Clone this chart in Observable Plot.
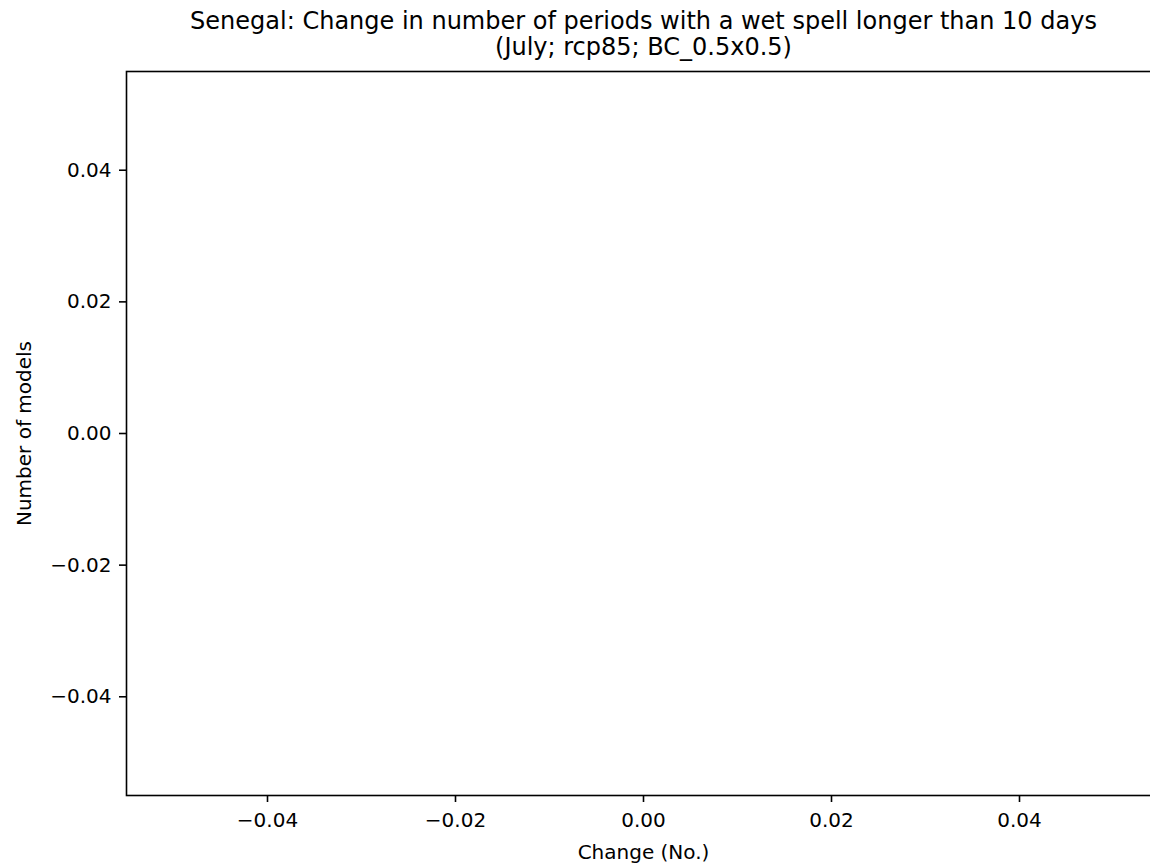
<!DOCTYPE html>
<html>
<head>
<meta charset="utf-8">
<script src="https://cdn.jsdelivr.net/npm/d3@7"></script>
<script src="https://cdn.jsdelivr.net/npm/@observablehq/plot@0.6"></script>
<style>
  html, body { margin: 0; padding: 0; background: #fff; overflow: hidden; }
  #chart { width: 1150px; height: 865px; overflow: hidden; }
  #chart svg { max-width: none !important; }
</style>
</head>
<body>
<div id="chart"></div>
<script>
// Chart content (the reference histogram contains no data)
const titleText = "Senegal: Change in number of periods with a wet spell longer than 10 days\n(July; rcp85; BC_0.5x0.5)";
const xLabel = "Change (No.)";
const yLabel = "Number of models";
const changeValues = [];          // no model values in the reference
const xTicks = [-0.04, -0.02, 0.00, 0.02, 0.04];
const yTicks = [-0.04, -0.02, 0.00, 0.02, 0.04];
const xDomain = [-0.055, 0.055];
const yDomain = [-0.055, 0.055];

const fmt = d3.format(".2f");
const font = "DejaVu Sans";

const chart = Plot.plot({
  width: 1170,
  height: 865,
  marginLeft: 126,
  marginRight: 10,
  marginTop: 71,
  marginBottom: 70,
  style: { fontFamily: font, fontSize: "20px", color: "#000", background: "#fff", overflow: "visible", maxWidth: "none" },
  x: { domain: xDomain },
  y: { domain: yDomain },
  marks: [
    Plot.rectY(changeValues, Plot.binX({ y: "count" }, { x: d => d, fill: "#1f77b4" })),
    Plot.frame({ stroke: "#000", strokeWidth: 1.6 }),
    Plot.axisX({ ticks: xTicks, tickFormat: fmt, tickSize: 7, tickPadding: 10, strokeWidth: 1.6, fontSize: 20, label: null }),
    Plot.axisY({ ticks: yTicks, tickFormat: fmt, tickSize: 7, tickPadding: 8, strokeWidth: 1.6, fontSize: 20, label: null }),
    Plot.text([titleText], { frameAnchor: "top", lineAnchor: "bottom", lineHeight: 1.05, dy: -17, fontSize: 24, fill: "#000" }),
    Plot.text([xLabel], { frameAnchor: "bottom", lineAnchor: "bottom", dy: 63, fontSize: 20, fill: "#000" }),
    Plot.text([yLabel], { frameAnchor: "left", textAnchor: "middle", lineAnchor: "bottom", rotate: -90, dx: -96, fontSize: 20, fill: "#000" })
  ]
});
document.getElementById("chart").appendChild(chart);
</script>
</body>
</html>
